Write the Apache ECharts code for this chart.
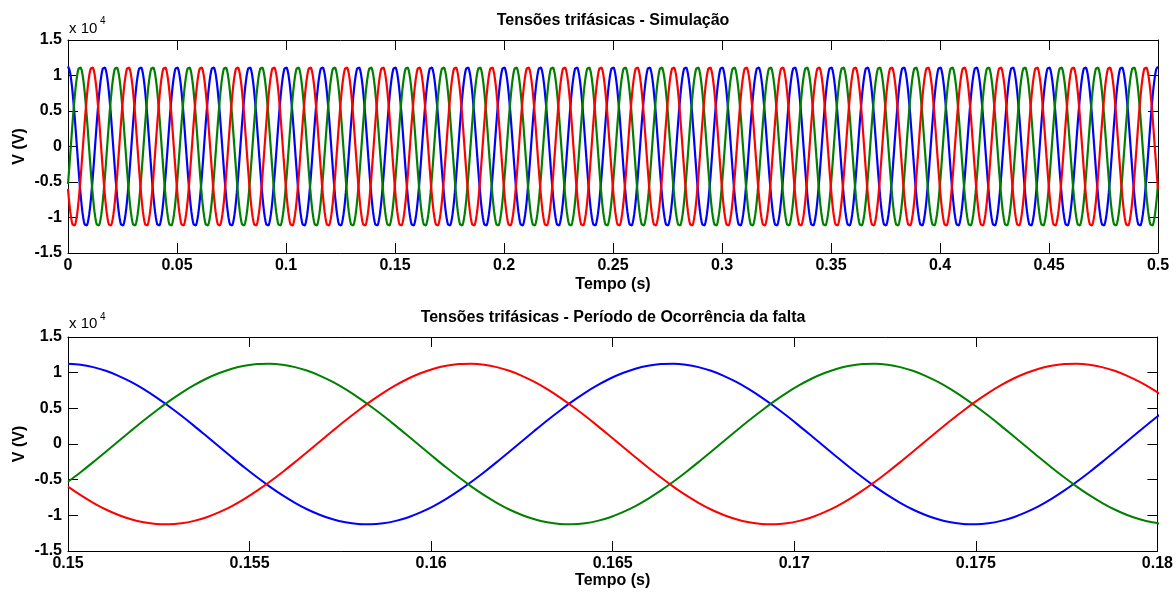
<!DOCTYPE html>
<html>
<head>
<meta charset="utf-8">
<title>Tensões trifásicas</title>
<script src="https://cdn.jsdelivr.net/npm/echarts@6/dist/echarts.min.js"></script>
<style>
  html, body { margin: 0; padding: 0; background: #fff; }
  #chart { width: 1176px; height: 592px; }
</style>
</head>
<body>
<div id="chart"></div>
<script>
// One period (60 Hz) of each phase voltage, in volts, sampled every 7.5 degrees
// starting at t = 0. The simulated signal repeats this period unchanged.
const phaseA = [11260, 11120, 10780, 10260, 9560, 8700, 7690, 6540, 5290, 3950, 2540, 1080,
                -390, -1860, -3300, -4670, -5970, -7170, -8240, -9180, -9950, -10560, -10980, -11220,
                -11260, -11120, -10780, -10260, -9560, -8700, -7690, -6540, -5290, -3950, -2540, -1080,
                390, 1860, 3300, 4670, 5970, 7170, 8240, 9180, 9950, 10560, 10980, 11220];
const phaseB = [-5290, -3950, -2540, -1080, 390, 1860, 3300, 4670, 5970, 7170, 8240, 9180,
                9950, 10560, 10980, 11220, 11260, 11120, 10780, 10260, 9560, 8700, 7690, 6540,
                5290, 3950, 2540, 1080, -390, -1860, -3300, -4670, -5970, -7170, -8240, -9180,
                -9950, -10560, -10980, -11220, -11260, -11120, -10780, -10260, -9560, -8700, -7690, -6540];
const phaseC = [-5970, -7170, -8240, -9180, -9950, -10560, -10980, -11220, -11260, -11120, -10780, -10260,
                -9560, -8700, -7690, -6540, -5290, -3950, -2540, -1080, 390, 1860, 3300, 4670,
                5970, 7170, 8240, 9180, 9950, 10560, 10980, 11220, 11260, 11120, 10780, 10260,
                9560, 8700, 7690, 6540, 5290, 3950, 2540, 1080, -390, -1860, -3300, -4670];

const period = 1 / 60;             // s
const samplesPerCycle = phaseA.length;

// Sample index ranges shown in each panel
const fullRange = [0, 1440];       // 0 .. 0.5 s
const faultRange = [432, 520];     // 0.15 .. 0.18 s (last point clipped)

// Axis ticks
const yTicks = [-1.5, -1, -0.5, 0, 0.5, 1, 1.5];      // x 10^4 V
const xTicksFull = [0, 0.05, 0.1, 0.15, 0.2, 0.25, 0.3, 0.35, 0.4, 0.45, 0.5];
const xTicksFault = [0.15, 0.155, 0.16, 0.165, 0.17, 0.175, 0.18];

const colors = { A: '#0000ff', B: '#008000', C: '#ff0000' };

function periodicSeries(cycle, range) {
  const pts = [];
  for (let k = range[0]; k <= range[1]; k++) {
    pts.push([k * period / samplesPerCycle, cycle[k % samplesPerCycle]]);
  }
  return pts;
}

const FONT = 'Liberation Sans, Arial, sans-serif';
const chart = echarts.init(document.getElementById('chart'), null, { renderer: 'canvas' });

const gridL = 68, gridW = 1090;
const grids = [
  { left: gridL, top: 40, width: gridW, height: 213 },
  { left: gridL, top: 337, width: gridW, height: 214 }
];

function xAxes(gridIndex, ticks, nameGap) {
  const min = ticks[0], max = ticks[ticks.length - 1];
  const interval = ticks[1] - ticks[0];
  const common = {
    type: 'value', gridIndex, min, max, interval,
    axisLine: { show: true, onZero: false, lineStyle: { color: '#000', width: 1 } },
    axisTick: { show: true, inside: true, length: 10, lineStyle: { color: '#000' } },
    splitLine: { show: false }
  };
  return [
    Object.assign({}, common, {
      position: 'bottom',
      name: 'Tempo (s)', nameLocation: 'middle', nameGap, nameMoveOverlap: false,
      nameTextStyle: { color: '#000', fontSize: 16, fontWeight: 'bold', fontFamily: FONT },
      axisLabel: {
        show: true, margin: 5, color: '#000', fontSize: 16, fontWeight: 'bold', fontFamily: FONT,
        showMinLabel: true, showMaxLabel: true,
        formatter: v => String(+v.toFixed(4))
      }
    }),
    Object.assign({}, common, { position: 'top', axisLabel: { show: false } })
  ];
}

function yAxes(gridIndex) {
  const common = {
    type: 'value', gridIndex,
    min: yTicks[0] * 1e4, max: yTicks[yTicks.length - 1] * 1e4, interval: (yTicks[1] - yTicks[0]) * 1e4,
    axisLine: { show: true, onZero: false, lineStyle: { color: '#000', width: 1 } },
    axisTick: { show: true, inside: true, length: 10, lineStyle: { color: '#000' } },
    splitLine: { show: false }
  };
  return [
    Object.assign({}, common, {
      position: 'left',
      name: 'V (V)', nameLocation: 'middle', nameGap: 40, nameRotate: 90, nameMoveOverlap: false,
      nameTextStyle: { color: '#000', fontSize: 16, fontWeight: 'bold', fontFamily: FONT },
      axisLabel: {
        show: true, margin: 6, color: '#000', fontSize: 16, fontWeight: 'bold', fontFamily: FONT,
        formatter: v => String(+(v / 1e4).toFixed(2))
      }
    }),
    Object.assign({}, common, { position: 'right', axisLabel: { show: false } })
  ];
}

function lineSeries(name, cycle, range, axisBase, color, smooth, width) {
  return {
    name, type: 'line',
    xAxisIndex: axisBase, yAxisIndex: axisBase,
    data: periodicSeries(cycle, range),
    showSymbol: false, symbol: 'none', smooth,
    clip: true, animation: false,
    lineStyle: { color, width },
    emphasis: { disabled: true }
  };
}

function titleText(text, y) {
  return {
    type: 'text', x: gridL + gridW / 2, y,
    style: { text, fill: '#000', font: 'bold 16px ' + FONT,
             align: 'center', verticalAlign: 'middle', textAlign: 'center', textVerticalAlign: 'middle' }
  };
}

function exponentLabel(yBase, yExp) {
  return [
    { type: 'text', x: 69, y: yBase,
      style: { text: 'x 10', fill: '#000', font: '15px ' + FONT,
               align: 'left', verticalAlign: 'middle', textAlign: 'left', textVerticalAlign: 'middle' } },
    { type: 'text', x: 100, y: yExp,
      style: { text: '4', fill: '#000', font: '10px ' + FONT,
               align: 'left', verticalAlign: 'middle', textAlign: 'left', textVerticalAlign: 'middle' } }
  ];
}

const option = {
  backgroundColor: '#fff',
  animation: false,
  grid: grids,
  xAxis: [...xAxes(0, xTicksFull, 24), ...xAxes(1, xTicksFault, 22)],
  yAxis: [...yAxes(0), ...yAxes(1)],
  series: [
    lineSeries('Va', phaseA, fullRange, 0, colors.A, false, 2.2),
    lineSeries('Vb', phaseB, fullRange, 0, colors.B, false, 2.2),
    lineSeries('Vc', phaseC, fullRange, 0, colors.C, false, 2.2),
    lineSeries('Va', phaseA, faultRange, 2, colors.A, 0.3, 2),
    lineSeries('Vb', phaseB, faultRange, 2, colors.B, 0.3, 2),
    lineSeries('Vc', phaseC, faultRange, 2, colors.C, 0.3, 2)
  ],
  graphic: [
    titleText('Tensões trifásicas - Simulação', 21),
    titleText('Tensões trifásicas - Período de Ocorrência da falta', 318),
    ...exponentLabel(29, 21),
    ...exponentLabel(324, 317)
  ]
};

chart.setOption(option);
</script>
</body>
</html>
